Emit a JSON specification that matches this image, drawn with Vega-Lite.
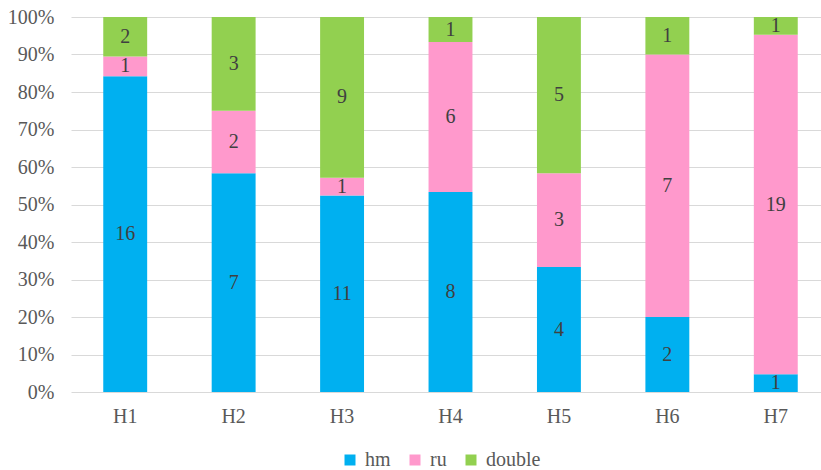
{
  "$schema": "https://vega.github.io/schema/vega-lite/v6.json",
  "width": 759,
  "height": 375,
  "autosize": "none",
  "padding": {"left": 71, "top": 17, "right": 0, "bottom": 78},
  "data": {
    "values": [
      {"cat": "H1", "series": "hm", "ord": 1, "n": 16},
      {"cat": "H1", "series": "ru", "ord": 2, "n": 1},
      {"cat": "H1", "series": "double", "ord": 3, "n": 2},
      {"cat": "H2", "series": "hm", "ord": 1, "n": 7},
      {"cat": "H2", "series": "ru", "ord": 2, "n": 2},
      {"cat": "H2", "series": "double", "ord": 3, "n": 3},
      {"cat": "H3", "series": "hm", "ord": 1, "n": 11},
      {"cat": "H3", "series": "ru", "ord": 2, "n": 1},
      {"cat": "H3", "series": "double", "ord": 3, "n": 9},
      {"cat": "H4", "series": "hm", "ord": 1, "n": 8},
      {"cat": "H4", "series": "ru", "ord": 2, "n": 6},
      {"cat": "H4", "series": "double", "ord": 3, "n": 1},
      {"cat": "H5", "series": "hm", "ord": 1, "n": 4},
      {"cat": "H5", "series": "ru", "ord": 2, "n": 3},
      {"cat": "H5", "series": "double", "ord": 3, "n": 5},
      {"cat": "H6", "series": "hm", "ord": 1, "n": 2},
      {"cat": "H6", "series": "ru", "ord": 2, "n": 7},
      {"cat": "H6", "series": "double", "ord": 3, "n": 1},
      {"cat": "H7", "series": "hm", "ord": 1, "n": 1},
      {"cat": "H7", "series": "ru", "ord": 2, "n": 19},
      {"cat": "H7", "series": "double", "ord": 3, "n": 1}
    ]
  },
  "transform": [
    {"stack": "n", "groupby": ["cat"], "offset": "normalize", "sort": [{"field": "ord", "order": "ascending"}], "as": ["y0", "y1"]},
    {"calculate": "(datum.y0 + datum.y1) / 2", "as": "ymid"}
  ],
  "encoding": {
    "x": {
      "field": "cat",
      "type": "nominal",
      "sort": ["H1", "H2", "H3", "H4", "H5", "H6", "H7"],
      "scale": {"paddingInner": 0.595, "paddingOuter": 0.2975},
      "axis": {
        "title": null,
        "labelAngle": 0,
        "ticks": false,
        "domain": false,
        "labelPadding": 14,
        "labelFontSize": 20,
        "labelColor": "#595959"
      }
    }
  },
  "layer": [
    {
      "mark": {"type": "bar"},
      "encoding": {
        "y": {
          "field": "y0",
          "type": "quantitative",
          "scale": {"domain": [0, 1]},
          "axis": {
            "title": null,
            "format": ".0%",
            "values": [0, 0.1, 0.2, 0.3, 0.4, 0.5, 0.6, 0.7, 0.8, 0.9, 1],
            "labelOverlap": false,
            "ticks": false,
            "domain": false,
            "grid": true,
            "gridColor": "#d9d9d9",
            "gridWidth": 1,
            "labelPadding": 17,
            "labelFontSize": 20,
            "labelColor": "#595959"
          }
        },
        "y2": {"field": "y1"},
        "color": {
          "field": "series",
          "type": "nominal",
          "scale": {"domain": ["hm", "ru", "double"], "range": ["#00B0F0", "#FF99CC", "#92D050"]},
          "legend": {
            "title": null,
            "orient": "none",
            "direction": "horizontal",
            "legendX": 269,
            "legendY": 433,
            "symbolType": "square",
            "symbolSize": 121,
            "symbolStrokeWidth": 0,
            "labelFontSize": 20,
            "labelColor": "#595959",
            "labelOffset": 5,
            "columnPadding": 14
          }
        }
      }
    },
    {
      "mark": {"type": "text", "fontSize": 20, "color": "#404040", "baseline": "middle"},
      "encoding": {
        "y": {
          "field": "ymid",
          "type": "quantitative",
          "axis": {
            "title": null,
            "format": ".0%",
            "values": [0, 0.1, 0.2, 0.3, 0.4, 0.5, 0.6, 0.7, 0.8, 0.9, 1],
            "labelOverlap": false,
            "ticks": false,
            "domain": false,
            "grid": true,
            "gridColor": "#d9d9d9",
            "gridWidth": 1,
            "labelPadding": 17,
            "labelFontSize": 20,
            "labelColor": "#595959"
          }
        },
        "text": {"field": "n", "type": "quantitative"}
      }
    }
  ],
  "config": {
    "view": {"stroke": null},
    "font": "Liberation Serif, Times New Roman, serif",
    "text": {"font": "Liberation Serif, Times New Roman, serif"},
    "axis": {"labelFont": "Liberation Serif, Times New Roman, serif"},
    "legend": {"labelFont": "Liberation Serif, Times New Roman, serif"}
  }
}
